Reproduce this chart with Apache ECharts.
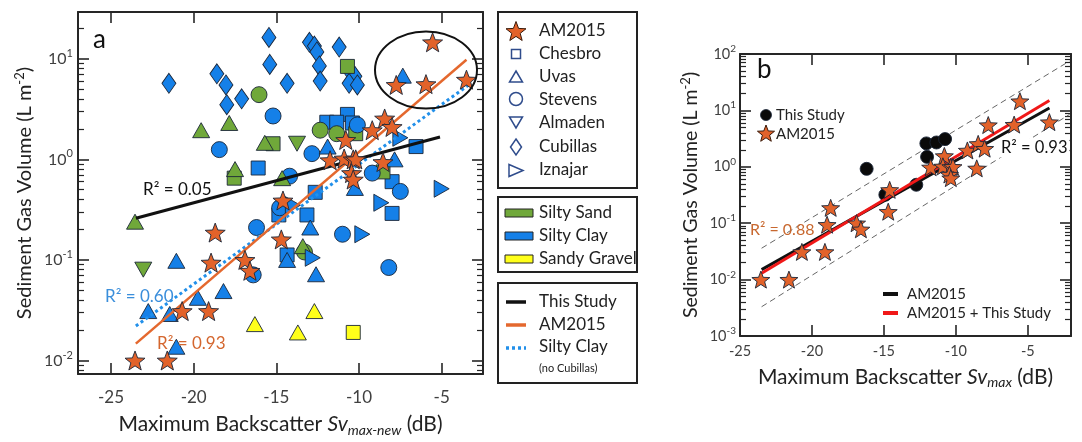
<!DOCTYPE html>
<html><head><meta charset="utf-8">
<script src="https://cdn.jsdelivr.net/npm/echarts@6/dist/echarts.min.js"></script>
<style>html,body{margin:0;padding:0;background:#fff}#c{width:1082px;height:442px}</style>
</head><body><div id="c"></div>
<script>
// ---------------- DATA ----------------
// Panel a: x = Sv_max-new (dB), y = sediment gas volume (L m^-2)
const amStars = [[-23.55,0.010],[-21.6,0.010],[-20.7,0.031],[-19.1,0.031],[-18.95,0.094],[-18.7,0.187],[-16.9,0.10],[-16.6,0.078],[-14.6,0.39],[-14.7,0.16],[-10.8,1.56],[-9.2,1.95],[-8.45,2.55],[-8.0,2.1],[-11.75,0.98],[-10.9,1.02],[-10.35,1.0],[-10.2,1.0],[-8.55,0.94],[-10.45,0.73],[-10.35,0.63],[-5.55,14.6],[-7.75,5.5],[-5.95,5.6],[-3.5,6.2]];
const chesbroClay = [[-10.7,2.8],[-11.95,2.34],[-11.35,2.34],[-10.4,2.3],[-6.55,1.34],[-8.0,0.6],[-12.65,0.47],[-8.0,0.29],[-13.15,0.28],[-14.85,0.28],[-16.1,0.82],[-14.35,0.112]];
const chesbroSand = [[-10.2,1.8],[-10.7,8.4],[-15.2,1.43],[-8.55,0.75],[-17.55,0.65]];
const chesbroGravel = [[-10.35,0.019]];
const uvasClay = [[-7.35,6.8],[-11.9,1.34],[-7.85,1.0],[-10.25,0.52],[-12.95,0.21],[-14.35,0.10],[-12.6,0.072],[-21.05,0.098],[-19.75,0.042],[-18.2,0.049],[-22.75,0.031],[-21.45,0.029],[-21.05,0.0137]];
const uvasSand = [[-23.55,0.24],[-19.55,1.95],[-17.85,2.3],[-17.5,0.8],[-15.7,1.46],[-14.65,0.65],[-13.4,0.137]];
const uvasGravel = [[-16.3,0.023],[-12.7,0.031],[-13.7,0.019]];
const stevensClay = [[-18.45,1.25],[-15.2,2.7],[-12.85,1.14],[-9.2,0.73],[-7.5,0.48],[-14.2,0.68],[-14.8,0.33],[-16.2,0.21],[-16.4,0.071],[-11.0,0.18],[-8.2,0.084],[-10.1,2.2]];
const stevensSand = [[-16.05,4.4],[-12.35,1.95],[-11.35,1.8],[-13.3,0.12]];
const almadenSand = [[-13.75,1.43],[-23.05,0.080]];
const cubillasClay = [[-21.5,5.7],[-18.6,7.1],[-18.05,5.5],[-18.0,3.5],[-17.1,4.0],[-15.45,16.3],[-15.4,8.8],[-14.35,5.7],[-13.0,14.6],[-12.7,13.4],[-12.55,11.7],[-12.4,8.5],[-12.35,6.0],[-11.2,13.1],[-10.55,7.5],[-10.25,6.7],[-10.6,5.7],[-10.1,5.5]];
const iznajarClay = [[-7.5,1.64],[-5.0,0.51],[-8.65,0.37],[-14.0,0.35],[-12.8,0.105],[-9.8,0.18]];
const fitThisStudyA = [[-23.5,0.26],[-5.1,1.67]];
const fitAM2015A = [[-23.5,0.0147],[-3.5,9.8]];
const fitSiltyClayA = [[-23.5,0.022],[-3.3,5.6]];
// Panel b: x = Sv_max (dB)
const thisStudyB = [[-16.2,0.92],[-14.9,0.32],[-12.75,0.48],[-12.0,1.5],[-12.05,2.6],[-11.35,2.7],[-10.75,3.1]];
const fitAM2015B = [[-23.5,0.015],[-3.5,11]];
const fitCombinedB = [[-23.5,0.013],[-3.5,15]];
const boundUpperB = [[-23.5,0.036],[-2.1,75]];
const boundLowerB = [[-23.5,0.0033],[-2.1,8.5]];
// ticks
const xTickVals = [-25,-20,-15,-10,-5];
const xTickValsB = [-20,-15,-10,-5];
const rangeXA = [-27,-2.5], rangeYA = [0.00732,29.2];
const rangeXB = [-25,-2], rangeYB = [0.001,100];

// ---------------- STYLE ----------------
const FONT = 'Lato, "Open Sans", sans-serif';
const FRAME = '#262626', LABEL = '#404040', TXT = '#222';
const BLUE = '#1580E8', GREEN = '#70A83A', YELLOW = '#FFFF1A', ORANGE = '#E2622A', STROKE = '#1B2638';
const NAVY = '#2F4C8C';

function starPts(cx, cy, R){ const r = R*0.42, p=[]; for(let i=0;i<10;i++){const a=-Math.PI/2+i*Math.PI/5, rr=i%2?r:R; p.push([cx+rr*Math.cos(a), cy+rr*Math.sin(a)]);} return p; }
const STAR = 'path://' + starPts(50,50,50).map((p,i)=>(i?'L':'M')+p[0].toFixed(2)+','+p[1].toFixed(2)).join(' ') + 'Z';
const TRI_DOWN = 'path://M0,0L20,0L10,17.5Z';
const TRI_RIGHT = 'path://M0,0L17.5,10L0,20Z';

function minorVals(ext){ const out=[]; const lo=Math.log10(ext[0]), hi=Math.log10(ext[1]);
  for(let n=-4;n<=2;n++) for(let k=2;k<=9;k++){ const v=n+Math.log10(k); if(v>lo && v<hi) out.push(v);} return out; }
function powLabel(v){ const e=Math.log10(v), r=Math.round(e); if(Math.abs(e-r)>1e-6) return ''; return '{b|10}{s|'+r+'}'; }

const lineFrame = {show:true, onZero:false, lineStyle:{color:FRAME, width:2}};
function xAx(grid, pos, range, tickVals, labelVals, name, nameGap, fs, margin, nfs){
  nfs = nfs || 20;
  return {type:'value', gridIndex:grid, position:pos, min:range[0], max:range[1],
    axisLine:lineFrame, splitLine:{show:false},
    axisTick:{show:true, inside:true, length:11, customValues:tickVals, lineStyle:{color:FRAME,width:1.6}},
    axisLabel: labelVals ? {show:true, customValues:labelVals, color:LABEL, fontSize:fs, fontFamily:FONT, margin:margin} : {show:false},
    name: name||'', nameLocation:'middle', nameGap:nameGap||0,
    nameTextStyle:{color:TXT, fontSize:nfs, fontFamily:FONT, lineHeight:26,
      rich:{i:{fontStyle:'italic', fontSize:nfs, fontFamily:FONT, color:TXT, lineHeight:26},
            sub:{fontStyle:'italic', fontSize:Math.round(nfs*0.68), fontFamily:FONT, color:TXT, lineHeight:13, verticalAlign:'bottom'}}}};
}
function yLog(grid, pos, range, labels, name, nameGap, fs, margin, nfs){
  nfs = nfs || 19.5;
  return {type:'log', logBase:10, gridIndex:grid, position:pos, min:range[0], max:range[1],
    axisLine:lineFrame, splitLine:{show:false}, minorTick:{show:false},
    axisTick:{show:true, inside:true, length:11, lineStyle:{color:FRAME,width:1.6}},
    axisLabel: labels ? {show:true, formatter:powLabel, margin:margin, color:LABEL,
      rich:{b:{fontSize:fs, fontFamily:FONT, color:LABEL, lineHeight:fs+6}, s:{fontSize:Math.round(fs*0.68), fontFamily:FONT, color:LABEL, lineHeight:10, verticalAlign:'top'}}} : {show:false},
    name: name||'', nameLocation:'middle', nameGap:nameGap||0,
    nameTextStyle:{color:TXT, fontSize:nfs, fontFamily:FONT, lineHeight:24,
      rich:{s:{fontSize:Math.round(nfs*0.66), fontFamily:FONT, color:TXT, lineHeight:10, verticalAlign:'top'}}}};
}
function yMinor(grid, pos, range){
  return {type:'value', gridIndex:grid, position:pos, min:Math.log10(range[0]), max:Math.log10(range[1]),
    axisLine:{show:false}, splitLine:{show:false}, axisLabel:{show:false},
    axisTick:{show:true, inside:true, length:6, customValues:minorVals(range), lineStyle:{color:FRAME,width:1.2}}};
}

function sc(data, symbol, size, fill, xi, yi, z){
  return {type:'scatter', data, symbol, symbolSize:size, xAxisIndex:xi, yAxisIndex:yi, z:z||3,
    itemStyle:{color:fill, borderColor:STROKE, borderWidth:0.9, opacity:1}, emphasis:{disabled:true}, silent:true, animation:false};
}
function ln(data, color, width, type, xi, yi, z){
  return {type:'line', data, symbol:'none', xAxisIndex:xi, yAxisIndex:yi, z:z||4,
    lineStyle:{color, width, type, cap:'butt'}, silent:true, animation:false, emphasis:{disabled:true}};
}

const SQ=14, CI=16, TR=[17,15], DI=[14,20], DN=[17,15], RT=[15,17], ST=[20,19];
const series = [
  // panel a markers
  sc(cubillasClay,'diamond',DI,BLUE,0,0),
  sc(chesbroClay,'rect',SQ,BLUE,0,0), sc(chesbroSand,'rect',SQ,GREEN,0,0), sc(chesbroGravel,'rect',SQ,YELLOW,0,0),
  sc(stevensClay,'circle',CI,BLUE,0,0), sc(stevensSand,'circle',CI,GREEN,0,0),
  sc(uvasClay,'triangle',TR,BLUE,0,0), sc(uvasSand,'triangle',TR,GREEN,0,0), sc(uvasGravel,'triangle',TR,YELLOW,0,0),
  sc(almadenSand,TRI_DOWN,DN,GREEN,0,0),
  sc(iznajarClay,TRI_RIGHT,RT,BLUE,0,0),
  ln(fitSiltyClayA,'#2290EA',3,[3,3],0,0,5),
  ln(fitThisStudyA,'#111',3,'solid',0,0,5),
  ln(fitAM2015A,'#E4682E',2.5,'solid',0,0,5),
  sc(amStars,STAR,ST,ORANGE,0,0,6),
  // panel b
  ln(boundUpperB,'#666',1,[6,4],2,4,4), ln(boundLowerB,'#666',1,[6,4],2,4,4),
  sc(thisStudyB,'circle',13,'#0a0a0a',2,4,5),
  ln(fitAM2015B,'#111',3,'solid',2,4,6), ln(fitCombinedB,'#F01818',3,'solid',2,4,6),
  sc(amStars,STAR,[18,17],ORANGE,2,4,7)
];

// graphic helpers
function T(x,y,text,size,color,extra){ return {type:'text', x, y, z:50, style:Object.assign({text, fill:color, font:size+'px '+FONT, align:'left', verticalAlign:'middle'}, extra||{})}; }
const hollow = {fill:'#fff', stroke:NAVY, lineWidth:1.5};
const LX=516, TX=539, LF=17;
const gElems = [
  T(93,40,'a',26,'#111'), T(757,70,'b',26,'#111'),
  {type:'ellipse', z:40, shape:{cx:426, cy:70, rx:51, ry:38.5}, style:{fill:'none', stroke:'#111', lineWidth:2}},
  T(143,190,'R² = 0.05',17,'#111'),
  T(105,297,'R² = 0.60',17,'#3A8EDB'),
  T(157,344,'R² = 0.93',17,'#D4662E'),
  T(750,230,'R² = 0.88',16,'#C8682F'),
  T(999,148,'R² = 0.93',16.5,'#111',{backgroundColor:'#fff', padding:[1,2,1,2]}),
  // legend boxes panel a
  {type:'rect', z:40, shape:{x:498,y:12,width:139,height:176}, style:{fill:'#fff', stroke:'#222', lineWidth:2}},
  {type:'rect', z:40, shape:{x:498,y:197,width:139,height:75}, style:{fill:'#fff', stroke:'#222', lineWidth:2}},
  {type:'rect', z:40, shape:{x:498,y:283,width:139,height:100}, style:{fill:'#fff', stroke:'#222', lineWidth:2}},
  {type:'polygon', z:45, shape:{points:starPts(LX,32,10.5)}, style:{fill:ORANGE, stroke:'#3a1a0a', lineWidth:1}},
  {type:'rect', z:45, shape:{x:LX-4.5,y:49.5,width:9,height:9}, style:hollow},
  {type:'polygon', z:45, shape:{points:[[LX,71],[LX+6.5,82],[LX-6.5,82]]}, style:hollow},
  {type:'circle', z:45, shape:{cx:LX,cy:99,r:6.5}, style:hollow},
  {type:'polygon', z:45, shape:{points:[[LX-6.5,117],[LX+6.5,117],[LX,128]]}, style:hollow},
  {type:'polygon', z:45, shape:{points:[[LX,139],[LX+5.5,147],[LX,155],[LX-5.5,147]]}, style:hollow},
  {type:'polygon', z:45, shape:{points:[[LX-7,164.5],[LX+7,170.5],[LX-7,176.5]]}, style:hollow},
  T(TX,31,'AM2015',LF,TXT), T(TX,54,'Chesbro',LF,TXT), T(TX,77,'Uvas',LF,TXT), T(TX,100,'Stevens',LF,TXT),
  T(TX,123,'Almaden',LF,TXT), T(TX,147,'Cubillas',LF,TXT), T(TX,170,'Iznajar',LF,TXT),
  {type:'rect', z:45, shape:{x:505,y:209,width:28,height:8}, style:{fill:GREEN, stroke:'#222', lineWidth:1}},
  {type:'rect', z:45, shape:{x:505,y:232,width:28,height:8}, style:{fill:BLUE, stroke:'#222', lineWidth:1}},
  {type:'rect', z:45, shape:{x:505,y:255,width:28,height:8}, style:{fill:YELLOW, stroke:'#222', lineWidth:1}},
  T(TX,213,'Silty Sand',LF,TXT), T(TX,236,'Silty Clay',LF,TXT), T(TX,259,'Sandy Gravel',LF,TXT),
  {type:'line', z:45, shape:{x1:506,y1:302,x2:526,y2:302}, style:{stroke:'#111', lineWidth:3.5}},
  {type:'line', z:45, shape:{x1:506,y1:325,x2:526,y2:325}, style:{stroke:'#E4682E', lineWidth:3.5}},
  {type:'line', z:45, shape:{x1:506,y1:348,x2:526,y2:348}, style:{stroke:'#2290EA', lineWidth:3.5, lineDash:[3,3]}},
  T(TX,302,'This Study',LF,TXT), T(TX,325,'AM2015',LF,TXT), T(TX,347,'Silty Clay',LF,TXT), T(TX,368,'(no Cubillas)',11,TXT),
  // panel b legends
  {type:'circle', z:45, shape:{cx:766,cy:115,r:5.5}, style:{fill:'#0a0a0a', stroke:'#1B2638', lineWidth:0.8}},
  {type:'polygon', z:45, shape:{points:starPts(766,134,9)}, style:{fill:ORANGE, stroke:'#3a1a0a', lineWidth:1}},
  T(776,115,'This Study',15,TXT), T(776,134,'AM2015',15,TXT),
  {type:'line', z:45, shape:{x1:883,y1:294,x2:898,y2:294}, style:{stroke:'#111', lineWidth:4}},
  {type:'line', z:45, shape:{x1:883,y1:313,x2:898,y2:313}, style:{stroke:'#F01818', lineWidth:4}},
  T(907,294,'AM2015',15,TXT), T(907,313,'AM2015 + This Study',15,TXT)
];

const option = {
  animation:false, backgroundColor:'#fff',
  textStyle:{fontFamily:FONT},
  grid:[{left:78, top:12, width:405, height:372}, {left:740, top:54, width:331, height:282}],
  xAxis:[
    xAx(0,'bottom',rangeXA,xTickVals,xTickVals,'Maximum Backscatter {i|Sv}{sub|max-new} (dB)',30,17,15,21),
    xAx(0,'top',rangeXA,xTickVals,null),
    xAx(1,'bottom',rangeXB,xTickValsB,xTickVals,'Maximum Backscatter {i|Sv}{sub|max} (dB)',22,14.5,8,21),
    xAx(1,'top',rangeXB,xTickValsB,null)
  ],
  yAxis:[
    yLog(0,'left',rangeYA,true,'Sediment Gas Volume (L m{s|-2})',41,16,5,20),
    yMinor(0,'left',rangeYA),
    yLog(0,'right',rangeYA,false), yMinor(0,'right',rangeYA),
    yLog(1,'left',rangeYB,true,'Sediment Gas Volume (L m{s|-2})',37,14.5,4,19.5),
    yMinor(1,'left',rangeYB),
    yLog(1,'right',rangeYB,false), yMinor(1,'right',rangeYB)
  ],
  series,
  graphic:{elements:gElems}
};
const chart = echarts.init(document.getElementById('c'));
chart.setOption(option);
</script></body></html>
